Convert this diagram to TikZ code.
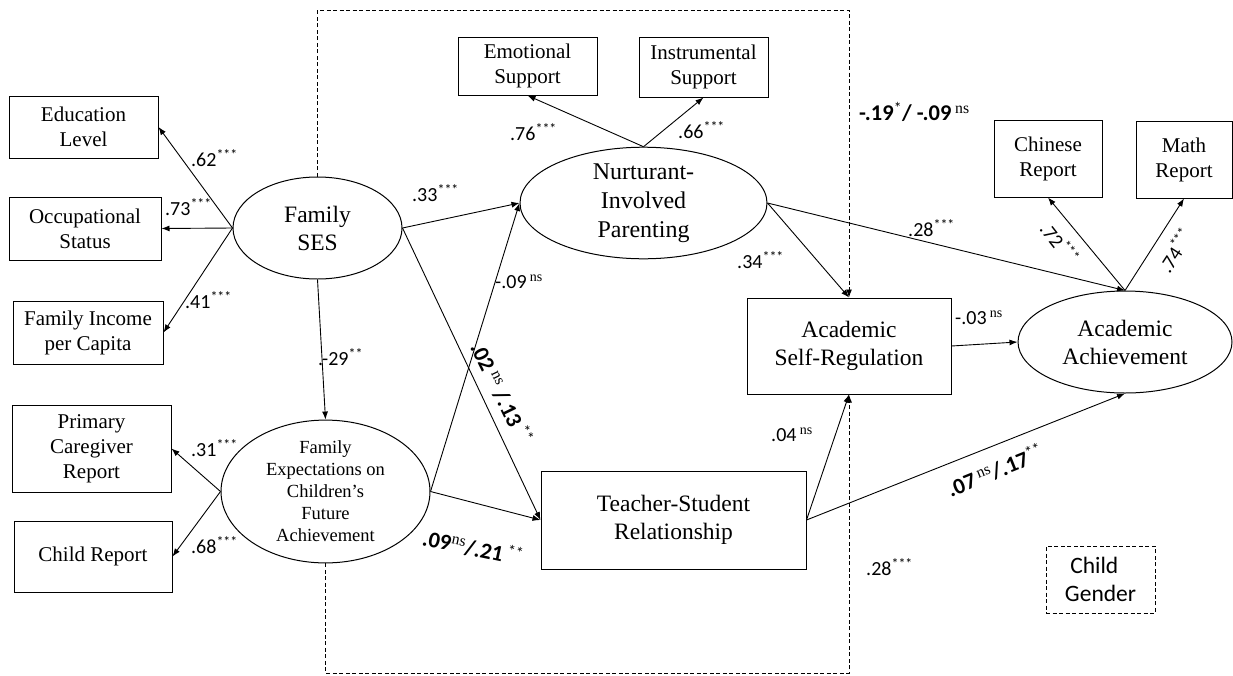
\documentclass[tikz,border=0pt]{standalone}
\usepackage{fontspec}
\setmainfont{Liberation Serif}
\newfontfamily\calib{Carlito}
\usetikzlibrary{shapes.geometric,arrows.meta}

% significance marks
\newcommand\stars[1]{\textsuperscript{#1}}
\newcommand\lstars[1]{\textsuperscript{\mdseries #1}}
\newcommand\nsig{\textsuperscript{\rmfamily\mdseries ns}}

\begin{document}
\begin{tikzpicture}[x=1pt,y=-1pt,
  box/.style={draw,rectangle,line width=1pt,inner sep=0pt,align=center,
    font=\fontsize{21}{25}\selectfont},
  bigbox/.style={box,font=\fontsize{23.5}{28}\selectfont},
  latent/.style={draw,ellipse,line width=1pt,inner sep=0pt,align=center,
    font=\fontsize{23.5}{28}\selectfont},
  conn/.style={line width=0.9pt,-{Latex[length=8pt,width=6pt]}},
  modconn/.style={conn,dash pattern=on 4pt off 2.5pt},
  coef/.style={font=\calib\fontsize{20}{24}\selectfont,inner sep=0pt,anchor=west},
  bcoef/.style={font=\calib\bfseries\fontsize{22.5}{26}\selectfont,inner sep=0pt},
]
\fill[white] (0,0) rectangle (1233,675);
\useasboundingbox (0,0) rectangle (1233,675);

% ---- family SES and its indicators
\node[latent,minimum width=169pt,minimum height=102pt] (ses) at (317.5,228) {Family\\SES};
\node[box,minimum width=149pt,minimum height=62pt] (edu) at (83.5,127) {Education\\Level};
\node[box,minimum width=152pt,minimum height=63pt] (occ) at (85,228.5) {Occupational\\Status};
\node[box,minimum width=150pt,minimum height=63pt] (inc) at (88,332.5) {Family Income\\per Capita};

% ---- family expectations and its indicators
\node[latent,minimum width=209pt,minimum height=117pt,font=\fontsize{18.5}{22}\selectfont]
  (fexp) at (325.5,491.5) {Family\\Expectations on\\Children's\\Future\\Achievement};
\node[box,minimum width=159pt,minimum height=87pt] (pcr) at (91.5,448.5) {Primary\\Caregiver\\Report};
\node[box,minimum width=158pt,minimum height=71pt] (crep) at (93,556.5) {Child Report};

% ---- parenting and its indicators
\node[latent,minimum width=247pt,minimum height=110pt,font=\fontsize{24}{29}\selectfont]
  (nip) at (643.5,203) {Nurturant-\\Involved\\Parenting};
\node[box,minimum width=139pt,minimum height=58pt] (emo) at (527.5,66) {Emotional\\Support};
\node[box,minimum width=129pt,minimum height=60pt] (ins) at (703.5,67) {Instrumental\\Support};

% ---- mediators
\node[bigbox,minimum width=204pt,minimum height=96pt] (asr) at (849,346) {Academic\\Self-Regulation};
\node[bigbox,minimum width=265pt,minimum height=98pt] (tsr) at (673.5,520) {Teacher-Student\\Relationship};

% ---- outcome and its indicators
\node[latent,minimum width=214pt,minimum height=102pt] (aa) at (1125,342) {Academic\\Achievement};
\node[box,minimum width=108pt,minimum height=77pt] (chn) at (1048,158.5) {Chinese\\Report};
\node[box,minimum width=96pt,minimum height=77pt] (mth) at (1184,159.5) {Math\\Report};

% ---- moderator
\node[draw,rectangle,line width=1pt,dash pattern=on 4pt off 2.5pt,inner sep=0pt,
  minimum width=109pt,minimum height=67pt,align=left,
  font=\calib\fontsize{23.5}{28}\selectfont] (gen) at (1100.5,579.5) {\ Child\\Gender};

% ---- measurement paths
\draw[conn] (ses.west) -- (edu.east);
\draw[conn] (ses.west) -- (occ.east);
\draw[conn] (ses.west) -- (inc.east);
\draw[conn] (fexp.west) -- (pcr.east);
\draw[conn] (fexp.west) -- (crep.east);
\draw[conn] (nip.north) -- (emo.south);
\draw[conn] (nip.north) -- (ins.south);
\draw[conn] (aa.north) -- (chn.south);
\draw[conn] (aa.north) -- (mth.south);

% ---- structural paths
\draw[conn] (ses.south) -- (fexp.north);
\draw[conn] (ses.east) -- (nip.west);
\draw[conn] (ses.east) -- (tsr.west);
\draw[conn] (fexp.east) -- (nip.west);
\draw[conn] (fexp.east) -- (tsr.west);
\draw[conn] (nip.east) -- (asr.north);
\draw[conn] (nip.east) -- (aa.north);
\draw[conn] (asr.east) -- (aa.west);
\draw[conn] (tsr.east) -- (asr.south);
\draw[conn] (tsr.east) -- (aa.south);

% ---- moderated paths (dashed frame)
\coordinate (topy) at (0,10);
\coordinate (boty) at (0,673);
\draw[modconn] (ses.north) -- (ses.north |- topy) -- (asr.north |- topy) -- (asr.north);
\draw[modconn] (fexp.south) -- (fexp.south |- boty) -- (asr.south |- boty) -- (asr.south);

% ---- coefficients
\node[coef] (l62) at (191,158) {.62\stars{***}};
\node[coef] (l73) at (165,207) {.73\stars{***}};
\node[coef] (l41) at (185,300) {.41\stars{***}};
\node[coef] (l29) at (318,357) {.-29\stars{**}};
\node[coef] (l31) at (191,448) {.31\stars{***}};
\node[coef] (l68) at (191,545) {.68\stars{***}};
\node[coef] (l33) at (412,193) {.33\stars{***}};
\node[coef] (l76) at (510,132) {.76\stars{***}};
\node[coef] (l66) at (678,130) {.66\stars{***}};
\node[coef] (l09) at (495,282) {-.09\,\nsig};
\node[coef] (l34) at (737,260) {.34\stars{***}};
\node[coef] (l28a) at (908,228) {.28\stars{***}};
\node[coef] (l03) at (955,318) {-.03\,\nsig};
\node[coef] (l04) at (771,435) {.04\,\nsig};
\node[coef] (l28b) at (866,567) {.28\stars{***}};
\node[bcoef,anchor=west] (l19) at (859,112) {-.19\lstars{*}/ -.09\,\nsig};
\node[bcoef,rotate=-12] (l21) at (473,547) {.09\nsig/.21\,\lstars{**}};
\node[bcoef,rotate=-64] (l13) at (502,393) {.02\,\nsig\ /.13\,\lstars{**}};
\node[bcoef,rotate=22] (l17) at (995,470) {.07\,\nsig/.17\lstars{**}};
\node[coef,anchor=center,rotate=-52] (l72) at (1060,243) {.72\stars{***}};
\node[coef,anchor=center,rotate=57] (l74) at (1175,250) {.74\stars{***}};
\end{tikzpicture}
\end{document}
